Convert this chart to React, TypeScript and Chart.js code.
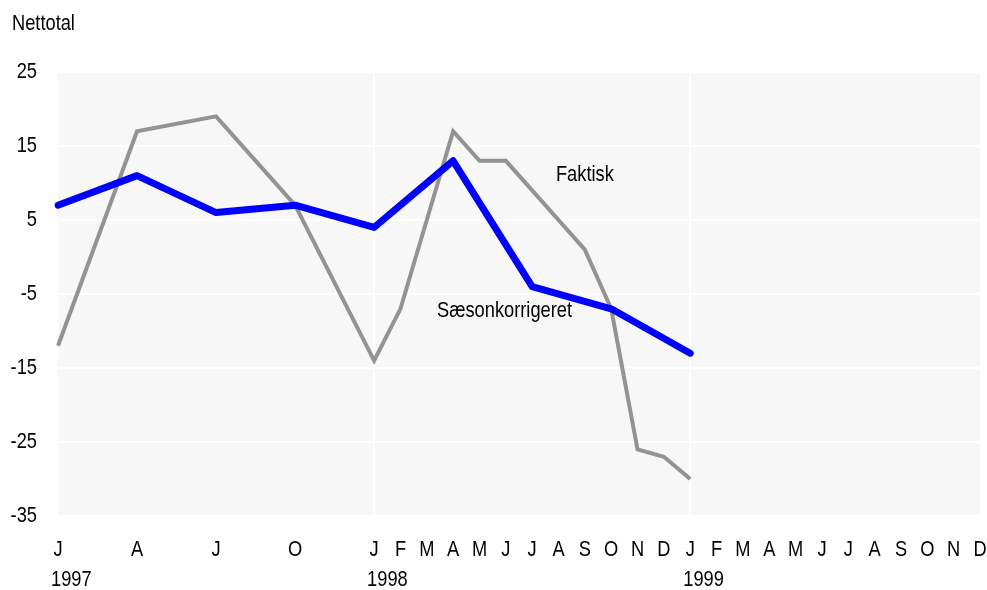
import React, { useEffect, useRef } from "react";
import { Chart, registerables } from "chart.js";

Chart.register(...registerables);

const monthLabels: string[] = [
  "J", "", "", "A", "", "", "J", "", "", "O", "", "",
  "J", "F", "M", "A", "M", "J", "J", "A", "S", "O", "N", "D",
  "J", "F", "M", "A", "M", "J", "J", "A", "S", "O", "N", "D",
];
const yearLabels: string[] = ["1997", "1998", "1999"];
const yearIndices: number[] = [0, 12, 24];

// Faktisk (actual) – quarterly in 1997, monthly from 1998
const faktisk: (number | null)[] = [
  -12, null, null, 17, null, null, 19, null, null, 7, null, null,
  -14, -7, 5, 17, 13, 13, 9, 5, 1, -7, -26, -27,
  -30, null, null, null, null, null, null, null, null, null, null, null,
];
// Sæsonkorrigeret (seasonally adjusted) – quarterly
const saeson: (number | null)[] = [
  7, null, null, 11, null, null, 6, null, null, 7, null, null,
  4, null, null, 13, null, null, -4, null, null, -7, null, null,
  -13, null, null, null, null, null, null, null, null, null, null, null,
];

const yTitle = "Nettotal";
const annotations = [
  { text: "Faktisk", x: 20, y: 11.1 },
  { text: "Sæsonkorrigeret", x: 16.95, y: -7.3 },
];

const FONT = "'Liberation Sans', Arial, sans-serif";
const FONT_SIZE = 22;
const SQUEEZE = 0.83;

export default function App() {
  const ref = useRef<HTMLCanvasElement | null>(null);

  useEffect(() => {
    if (!ref.current) return;
    document.body.style.margin = "0";

    const bgPlugin = {
      id: "bg",
      beforeDraw(chart: any) {
        const { ctx, chartArea } = chart;
        ctx.save();
        ctx.fillStyle = "#f7f7f7";
        ctx.fillRect(chartArea.left, chartArea.top, chartArea.right - chartArea.left, chartArea.bottom - chartArea.top);
        ctx.restore();
      },
    };

    const drawText = (ctx: CanvasRenderingContext2D, text: string, x: number, y: number, align: CanvasTextAlign) => {
      ctx.save();
      ctx.translate(x, y);
      ctx.scale(SQUEEZE, 1);
      ctx.textAlign = align;
      ctx.textBaseline = "middle";
      ctx.fillText(text, 0, 0);
      ctx.restore();
    };

    const textPlugin = {
      id: "texts",
      afterDraw(chart: any) {
        const { ctx, scales } = chart;
        ctx.save();
        ctx.fillStyle = "#000";
        ctx.font = `${FONT_SIZE}px ${FONT}`;
        drawText(ctx, yTitle, 12, 24, "left");
        // y tick labels
        scales.y.ticks.forEach((t: any) => {
          drawText(ctx, String(t.value), 37, scales.y.getPixelForValue(t.value), "right");
        });
        // month tick labels
        monthLabels.forEach((m, i) => {
          if (m) drawText(ctx, m, scales.x.getPixelForValue(i), 550, "center");
        });
        // year labels
        yearLabels.forEach((y, i) => {
          drawText(ctx, y, scales.x.getPixelForValue(yearIndices[i]) - 7, 580, "left");
        });
        annotations.forEach((a) => {
          drawText(ctx, a.text, scales.x.getPixelForValue(a.x), scales.y.getPixelForValue(a.y), "center");
        });
        ctx.restore();
      },
    };

    const chart = new Chart(ref.current, {
      type: "line",
      data: {
        labels: monthLabels,
        datasets: [
          {
            label: "Sæsonkorrigeret",
            data: saeson,
            borderColor: "#0000ff",
            borderWidth: 7,
            borderCapStyle: "round",
            borderJoinStyle: "round",
            pointRadius: 0,
            tension: 0,
            spanGaps: true,
            order: 0,
          },
          {
            label: "Faktisk",
            data: faktisk,
            borderColor: "#939393",
            borderWidth: 4,
            pointRadius: 0,
            tension: 0,
            spanGaps: true,
            order: 1,
          },
        ],
      },
      options: {
        animation: false,
        responsive: false,
        maintainAspectRatio: false,
        layout: { padding: { left: 58, top: 72, right: 7, bottom: 74 } },
        plugins: { legend: { display: false }, tooltip: { enabled: false }, title: { display: false } },
        scales: {
          x: {
            type: "category",
            offset: false,
            border: { display: false },
            grid: {
              drawTicks: false,
              lineWidth: 2,
              color: (c: any) => (c.index === 12 || c.index === 24 ? "#ffffff" : "rgba(0,0,0,0)"),
            },
            ticks: { display: false, autoSkip: false, maxRotation: 0, padding: 0 },
          },
          y: {
            min: -35,
            max: 25,
            border: { display: false },
            grid: { drawTicks: false, lineWidth: 2, color: "#ffffff" },
            ticks: { display: false, stepSize: 10, padding: 0 },
          },
        },
      },
      plugins: [bgPlugin, textPlugin],
    } as any);

    return () => chart.destroy();
  }, []);

  return (
    <div style={{ position: "absolute", left: 0, top: 0, width: 987, height: 590 }}>
      <canvas ref={ref} width={987} height={590} style={{ width: 987, height: 590 }} />
    </div>
  );
}
